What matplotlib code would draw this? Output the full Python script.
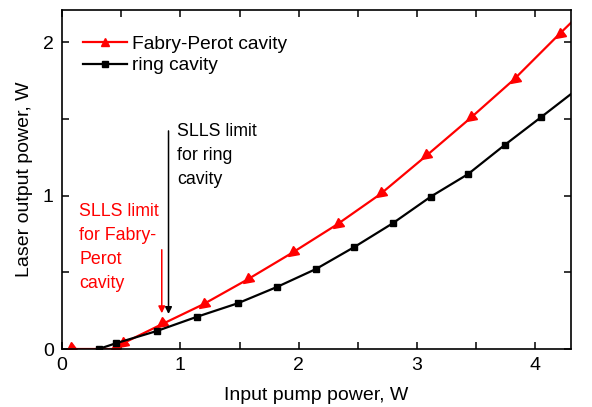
import matplotlib
matplotlib.use("Agg")
import matplotlib.pyplot as plt
from matplotlib.lines import Line2D
from matplotlib.markers import MarkerStyle
from matplotlib.transforms import Affine2D

plt.rcParams['font.family'] = ['Liberation Sans', 'DejaVu Sans']

# data
fp_pump = [0.07, 0.44, 0.51, 0.84, 1.19, 1.56, 1.94, 2.32, 2.69, 3.07, 3.45, 3.815, 4.195, 4.57]
fp_out = [0.0, 0.0, 0.035, 0.16, 0.29, 0.45, 0.625, 0.81, 1.01, 1.255, 1.505, 1.755, 2.048, 2.33]
ring_pump = [0.31, 0.454, 0.80, 1.14, 1.485, 1.815, 2.147, 2.47, 2.795, 3.117, 3.43, 3.74, 4.05, 4.38]
ring_out = [0.0, 0.037, 0.117, 0.21, 0.298, 0.404, 0.522, 0.665, 0.82, 0.994, 1.14, 1.33, 1.513, 1.71]

fig = plt.figure(figsize=(5.92, 4.07), dpi=100)
ax = fig.add_axes([0.1047, 0.1425, 0.8598, 0.8329])

tri = MarkerStyle('^', transform=Affine2D().rotate_deg(125))
ax.plot(fp_pump, fp_out, color='red', lw=1.6, marker=tri, ms=7.5, clip_on=True)
ax.plot(ring_pump, ring_out, color='black', lw=1.6, marker='s', ms=5, clip_on=True)

ax.set_xlim(0, 4.3)
ax.set_ylim(0, 2.21)
ax.set_xticks([0, 1, 2, 3, 4])
ax.set_xticks([0.5, 1.5, 2.5, 3.5], minor=True)
ax.set_yticks([0, 1, 2])
ax.set_yticks([0.5, 1.5], minor=True)
ax.tick_params(which='both', direction='in', top=True, right=True, labelsize=14, width=1.1)
ax.tick_params(which='major', length=5, pad=6)
ax.tick_params(which='minor', length=5)
for s in ax.spines.values():
    s.set_linewidth(1.2)

ax.set_xlabel("Input pump power, W", fontsize=14, labelpad=9)
ax.set_ylabel("Laser output power, W", fontsize=14, labelpad=7)

# SLLS annotations
ax.annotate("", xy=(0.843, 0.215), xytext=(0.843, 0.665),
            arrowprops=dict(arrowstyle='-|>', color='red', lw=1.1, mutation_scale=10))
ax.annotate("", xy=(0.90, 0.21), xytext=(0.90, 1.44),
            arrowprops=dict(arrowstyle='-|>', color='black', lw=1.1, mutation_scale=10))
ax.text(0.97, 1.475, "SLLS limit\nfor ring\ncavity", fontsize=12.8, color='black',
        va='top', ha='left', linespacing=1.55)
ax.text(0.145, 0.955, "SLLS limit\nfor Fabry-\nPerot\ncavity", fontsize=12.8, color='red',
        va='top', ha='left', linespacing=1.55)

handles = [Line2D([], [], color='red', lw=1.6, marker='^', ms=6),
           Line2D([], [], color='black', lw=1.6, marker='s', ms=5)]
ax.legend(handles, ["Fabry-Perot cavity", "ring cavity"], loc='upper left',
          bbox_to_anchor=(0.008, 0.975), frameon=False, fontsize=13.8,
          handlelength=2.3, handletextpad=0.26, labelspacing=0.2)

fig.savefig("out.png", dpi=100)
